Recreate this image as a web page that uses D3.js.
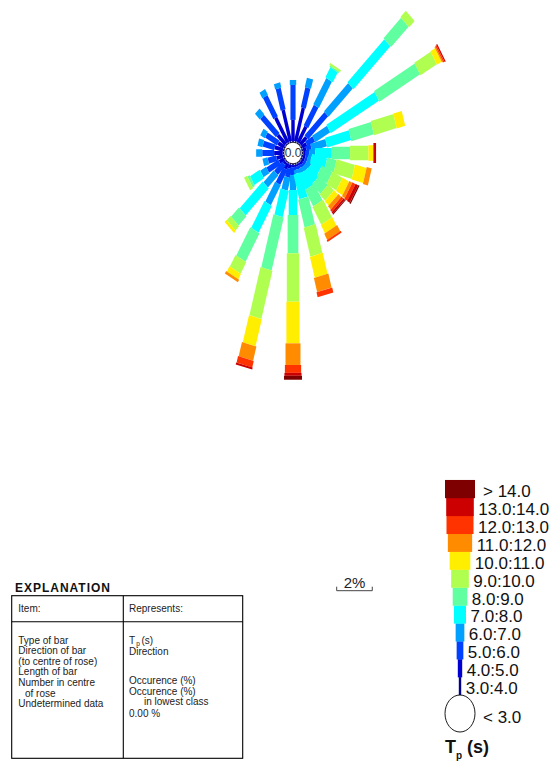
<!DOCTYPE html>
<html><head><meta charset="utf-8">
<script src="https://cdn.jsdelivr.net/npm/d3@7"></script>
<style>
body{margin:0;background:#fff}
svg{display:block}
text{font-family:"Liberation Sans",Arial,Helvetica,sans-serif}
</style>
</head><body>
<svg id="chart" width="550" height="767"></svg>
<script>
// ---------------- DATA ----------------
const directions = [0,15,30,45,60,75,90,105,120,135,150,165,180,195,210,225,240,255,270,285,300,315,330,345];
const classLabels = ["3.0:4.0","4.0:5.0","5.0:6.0","6.0:7.0","7.0:8.0","8.0:9.0","9.0:10.0","10.0:11.0","11.0:12.0","12.0:13.0","13.0:14.0","> 14.0"];
// occurrence (%) per Tp class, one value per direction
const c3_4   = [0.10,0.10,0.10,0.10,0.10,0.10,0.10,0.10,0.10,0.10,0.10,0.10,0.10,0.10,0.10,0.10,0.10,0.10,0.10,0.10,0.10,0.10,0.10,0.10];
const c4_5   = [1.01,1.66,0.87,0.48,0.29,0.19,0.14,0.14,0.14,0.14,0.10,0.10,0.10,0.19,0.29,0.14,0.29,0.38,0.48,0.48,0.38,0.63,1.37,1.56];
const c5_6   = [1.68,1.00,1.15,1.59,0.48,0.29,0.19,0.14,0.14,0.14,0.14,0.14,0.38,0.43,0.82,0.63,0.77,0.48,0.67,0.67,0.77,1.25,1.18,1.07];
const c6_7   = [0.24,0.46,1.46,1.92,0.96,0.87,0.34,0.19,0.29,0.24,0.24,0.19,0.72,0.63,1.11,0.82,0.38,0.29,0.34,0.29,0.29,0.38,0.32,0.26];
const c7_8   = [0,0,0.56,2.93,3.13,1.39,0.93,0.87,0.56,0.72,0.82,1.23,1.20,1.30,1.49,1.83,0.63,0,0,0,0,0,0,0];
const c8_9   = [0,0,0.07,1.39,2.64,1.30,1.03,0.53,0.67,0.65,0.91,1.39,1.84,2.64,1.57,0.63,0.14,0,0,0,0,0,0,0];
const c9_10  = [0,0,0.10,0.43,1.06,1.32,1.03,1.06,0.63,0.43,0.99,1.44,2.33,2.40,0.64,0.29,0.19,0,0,0,0,0,0,0];
const c10_11 = [0,0,0,0,0.29,0.49,0.28,0.67,0.41,0.30,0.46,1.04,2.00,1.35,0.29,0.14,0,0,0,0,0,0,0,0];
const c11_12 = [0,0,0,0,0.07,0,0,0.29,0.18,0.21,0.34,0.70,1.04,0.71,0.14,0,0,0,0,0,0,0,0,0];
const c12_13 = [0,0,0,0,0.07,0,0,0,0.19,0.14,0.10,0.25,0.38,0.32,0,0,0,0,0,0,0,0,0,0];
const c13_14 = [0,0,0,0,0.07,0,0.15,0,0.17,0.10,0,0,0.14,0.10,0,0,0,0,0,0,0,0,0,0];
const c14p   = [0,0,0,0,0,0,0,0,0.07,0.05,0,0,0.19,0,0,0,0,0,0,0,0,0,0,0];
const calmLabel = "< 3.0";
const centreValue = "0.0";
const scaleBarPct = 2;
const explanationItems = ["Type of bar","Direction of bar","(to centre of rose)","Length of bar","Number in centre","of rose","Undetermined data"];
const explanationRepresents = ["Direction","Occurence (%)","Occurence (%)","in lowest class","0.00 %"];

// ---------------- STYLE ----------------
const colors = ["#00008f","#0000d0","#0040ff","#00a0ff","#00ffff","#60ffa0","#b0ff50","#ffee00","#ff8c00","#ff3300","#cc0000","#7f0000"];
const roseWidths = [2,4,6,7.5,10,12.5,14.5,15.5,17.5,19,20,21];
const legendWidths = [2.4,4.4,6.7,8.7,12,14.6,17.7,20.7,24.3,27,27.6,30];
const cx = 293, cy = 153, kx = 0.855, R0 = 10, PX_PER_PCT = 20.8;

const svg = d3.select("#chart");
svg.append("rect").attr("width",550).attr("height",767).attr("fill","#fff");

const series = [c3_4,c4_5,c5_6,c6_7,c7_8,c8_9,c9_10,c10_11,c11_12,c12_13,c13_14,c14p];
const rows = directions.map((d,i) => {
  const o = {dir:d};
  classLabels.forEach((k,j) => o[k] = series[j][i]);
  return o;
});
const stacked = d3.stack().keys(classLabels)(rows);
const r = d3.scaleLinear().domain([0,10]).range([R0, R0 + 10*PX_PER_PCT]);

// ---------------- ROSE ----------------
const rose = svg.append("g").attr("transform",`translate(${cx},${cy}) scale(${kx},1)`);
stacked.forEach((layer,j) => {
  rose.append("g").selectAll("rect")
    .data(layer.filter(d => d[1]-d[0] > 0))
    .join("rect")
    .attr("transform", d => `rotate(${d.data.dir})`)
    .attr("x", -roseWidths[j]/2)
    .attr("width", roseWidths[j])
    .attr("y", d => -r(d[1]))
    .attr("height", d => r(d[1]) - r(d[0]))
    .attr("fill", colors[j]);
});
rose.append("circle").attr("r", R0+0.8).attr("fill","#fff").attr("stroke","#000").attr("stroke-width",0.8);
svg.append("text").attr("x",cx).attr("y",cy+4.3).attr("text-anchor","middle")
  .attr("font-size",12).attr("fill","#333").text(centreValue);

// ---------------- SCALE BAR ----------------
const barLen = (r(scaleBarPct) - r(0)) * kx;
const sbx = 336.7, sby = 590.7;
svg.append("path").attr("d",`M${sbx},${sby-4}V${sby}H${sbx+barLen}V${sby-4}`)
  .attr("fill","none").attr("stroke","#444").attr("stroke-width",1);
svg.append("text").attr("x",sbx+barLen/2).attr("y",588).attr("text-anchor","middle")
  .attr("font-size",15).attr("fill","#222").text(scaleBarPct + "%");

// ---------------- LEGEND ----------------
const lgx = 460, lgBottom = 695, rowH = 17.92;
const leg = svg.append("g");
classLabels.forEach((lab,j) => {
  const top = lgBottom - (j+1)*rowH;
  leg.append("rect").attr("x", lgx - legendWidths[j]/2).attr("y", top)
    .attr("width", legendWidths[j]).attr("height", rowH+0.3).attr("fill", colors[j]);
  const off = lab.startsWith(">") ? 8 : 4.5;
  leg.append("text").attr("x", lgx + legendWidths[j]/2 + off).attr("y", top + rowH/2 + 8.1)
    .attr("font-size",17).attr("fill","#111").text(lab);
});
leg.append("ellipse").attr("cx",lgx).attr("cy",713.5).attr("rx",15).attr("ry",18.5)
  .attr("fill","#fff").attr("stroke","#000").attr("stroke-width",0.9);
leg.append("text").attr("x",483).attr("y",722.8).attr("font-size",17).attr("fill","#111").text(calmLabel);
const tp = leg.append("text").attr("x",445).attr("y",753).attr("font-size",18).attr("font-weight","bold").attr("fill","#111");
tp.append("tspan").text("T");
tp.append("tspan").attr("dy",6).attr("font-size",10).text("p");
tp.append("tspan").attr("dy",-6).text("\u00a0(s)");

// ---------------- EXPLANATION ----------------
const ex = svg.append("g");
ex.append("text").attr("x",15).attr("y",591.5).attr("font-size",12).attr("font-weight","bold")
  .attr("textLength",95).attr("lengthAdjust","spacing").attr("fill","#111").text("EXPLANATION");
ex.append("rect").attr("x",11.7).attr("y",595.7).attr("width",231).attr("height",162.6)
  .attr("fill","none").attr("stroke","#000").attr("stroke-width",1.1);
ex.append("line").attr("x1",123.3).attr("x2",123.3).attr("y1",595.7).attr("y2",758.3).attr("stroke","#000").attr("stroke-width",1.1);
ex.append("line").attr("x1",11.7).attr("x2",242.7).attr("y1",621.7).attr("y2",621.7).attr("stroke","#000").attr("stroke-width",1.1);
const fs = 10, tc = "#222", L = 10.6, first = 643.5;
ex.append("text").attr("x",18.3).attr("y",612).attr("font-size",fs).attr("fill",tc).text("Item:");
ex.append("text").attr("x",129).attr("y",612).attr("font-size",fs).attr("fill",tc).text("Represents:");
explanationItems.forEach((t,i) => {
  ex.append("text").attr("x", t === "of rose" ? 25 : 18.3).attr("y", first + i*L)
    .attr("font-size",fs).attr("fill",tc).text(t);
});
const tpx = ex.append("text").attr("x",129).attr("y",first).attr("font-size",fs).attr("fill",tc);
tpx.append("tspan").text("T");
tpx.append("tspan").attr("dy",2).attr("dx",1.2).attr("font-size",6.5).text("p");
tpx.append("tspan").attr("dy",-2).attr("dx",1.5).text("(s)");
const rightRows = [1.05, 3.8, 4.8, 5.8, 6.85];
explanationRepresents.forEach((t,i) => {
  ex.append("text").attr("x", t === "in lowest class" ? 144 : 129).attr("y", first + rightRows[i]*L + 0.5)
    .attr("font-size",fs).attr("fill",tc).text(t);
});
</script>
</body></html>
